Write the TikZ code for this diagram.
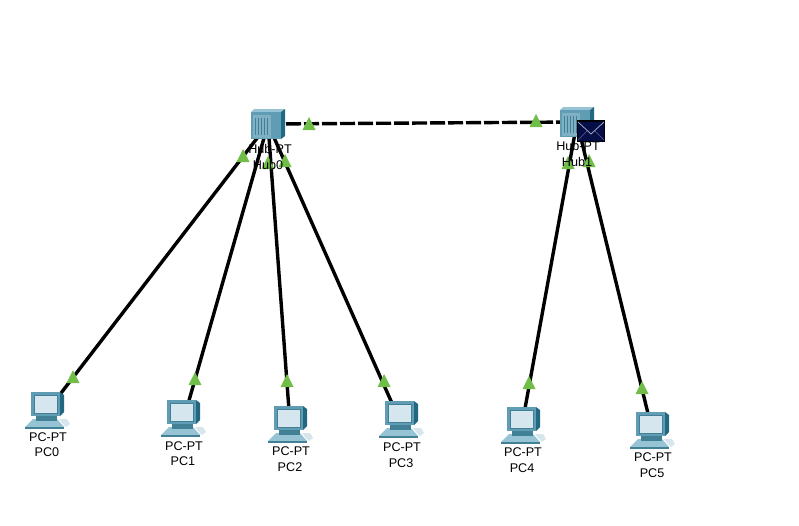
\documentclass[tikz,border=0pt]{standalone}
\usepackage{fontspec}
\setmainfont{Liberation Sans}
\definecolor{ledgreen}{RGB}{112,190,72}
\definecolor{tealfront}{RGB}{96,156,180}
\definecolor{tealpanel}{RGB}{128,176,196}
\definecolor{tealtop}{RGB}{150,196,212}
\definecolor{tealside}{RGB}{34,104,128}
\definecolor{tealdark}{RGB}{66,128,150}
\definecolor{screenblue}{RGB}{214,230,238}
\definecolor{envnavy}{RGB}{6,14,72}
\tikzset{
  x=1pt,y=-1pt,
  wire/.style={line width=3.4pt,black},
  crosswire/.style={wire,dash pattern=on 15pt off 3pt},
  lbl/.style={font=\fontsize{12.6}{15}\selectfont,inner sep=0pt,align=center,text=black},
  endpoint/.style={shape=coordinate},
  pcicon/.pic={
    % keyboard / base
    \fill[tealtop] (-20,17) -- (-12,9) -- (12,9) -- (19,17) -- cycle;
    \fill[tealdark] (-20,17) -- (19,17) -- (19,19) -- (-20,19) -- cycle;
    \fill[white!75!tealfront] (14,9) -- (22,9) -- (25,14) -- (21,17) -- (17,13) -- cycle;
    % stand
    \fill[tealdark] (-9,5) -- (12,5) -- (12,11) -- (-9,11) -- cycle;
    % monitor
    \fill[tealside] (15,-18) -- (19,-15) -- (19,2) -- (15,6) -- cycle;
    \fill[tealfront] (-14,-18) rectangle (15,6);
    \fill[screenblue] (-11,-15) rectangle (12,3);
    \draw[tealdark,line width=.6pt] (-11,-15) rectangle (12,3);
  },
  hubicon/.pic={
    \fill[tealtop] (-16,-12) -- (-13,-15) -- (18,-15) -- (14,-12) -- cycle;
    \fill[tealside] (14,-12) -- (18,-15) -- (18,12) -- (14,15) -- cycle;
    \fill[tealfront] (-16,-12) rectangle (14,15);
    \fill[tealpanel] (-14,-9) rectangle (4,14);
    \foreach \k in {-12,-9,-6,-3,0}{\fill[tealdark] (\k,-6) rectangle (\k+1.2,11);}
  },
  envelope/.pic={
    \fill[black] (-14,-11) rectangle (14,11);
    \fill[envnavy] (-13,-9.5) rectangle (13,9.5);
    \draw[white!70!envnavy,line width=.7pt] (-13,-9) -- (0,3) -- (13,-9);
    \draw[white!35!envnavy,line width=.5pt] (-13,9) -- (-4,0) (13,9) -- (4,0);
  },
  led/.pic={\fill[ledgreen] (-6.5,6) -- (0,-7) -- (6.5,6) -- cycle;}
}
\begin{document}
\begin{tikzpicture}
\useasboundingbox[fill=white] (0,0) rectangle (799,525);
\node[endpoint] (hub0) at (268,124) {};
\node[endpoint] (hub1) at (577,122) {};
\node[endpoint] (pc0) at (48,410) {};
\node[endpoint] (pc1) at (184,418) {};
\node[endpoint] (pc2) at (290,424) {};
\node[endpoint] (pc3) at (399,419) {};
\node[endpoint] (pc4) at (522,425) {};
\node[endpoint] (pc5) at (652,430) {};
% connectors
\draw[wire] (hub0) -- (pc0);
\draw[wire] (hub0) -- (pc1);
\draw[wire] (hub0) -- (pc2);
\draw[wire] (hub0) -- (pc3);
\draw[wire] (hub1) -- (pc4);
\draw[wire] (hub1) -- (pc5);
\draw[crosswire] (hub0) -- (hub1);
% icons
\pic at ([xshift=-1pt]hub0) {hubicon};
\pic at ([xshift=-1pt]hub1) {hubicon};
\pic at ([xshift=-3pt]pc0) {pcicon};
\pic at ([xshift=-3pt]pc1) {pcicon};
\pic at ([xshift=-2pt]pc2) {pcicon};
\pic at (pc3) {pcicon};
\pic at ([xshift=-1pt]pc4) {pcicon};
\pic at ([xshift=-2pt]pc5) {pcicon};
% link lights
\foreach \p in {(309,124),(243,156),(268,163),(285,161),(536,121),(568,163),(589,161),
  (73,377),(195,379),(287,381),(384,381),(529,383),(642,388)}{\pic at \p {led};}
\pic at (591,131) {envelope};
% labels
\node[lbl] (hub0type) at (270,149) {Hub-PT};
\node[lbl] (hub0name) at (268,165) {Hub0};
\node[lbl] (hub1type) at (578,146) {Hub-PT};
\node[lbl] (hub1name) at (577,162) {Hub1};
\node[lbl] (pc0type) at (48,437) {PC-PT};
\node[lbl] (pc0name) at (47,452) {PC0};
\node[lbl] (pc1type) at (184,446) {PC-PT};
\node[lbl] (pc1name) at (183,461) {PC1};
\node[lbl] (pc2type) at (291,451) {PC-PT};
\node[lbl] (pc2name) at (290,467) {PC2};
\node[lbl] (pc3type) at (402,447) {PC-PT};
\node[lbl] (pc3name) at (401,463) {PC3};
\node[lbl] (pc4type) at (523,452) {PC-PT};
\node[lbl] (pc4name) at (522,468) {PC4};
\node[lbl] (pc5type) at (653,457) {PC-PT};
\node[lbl] (pc5name) at (652,473) {PC5};
\end{tikzpicture}
\end{document}
